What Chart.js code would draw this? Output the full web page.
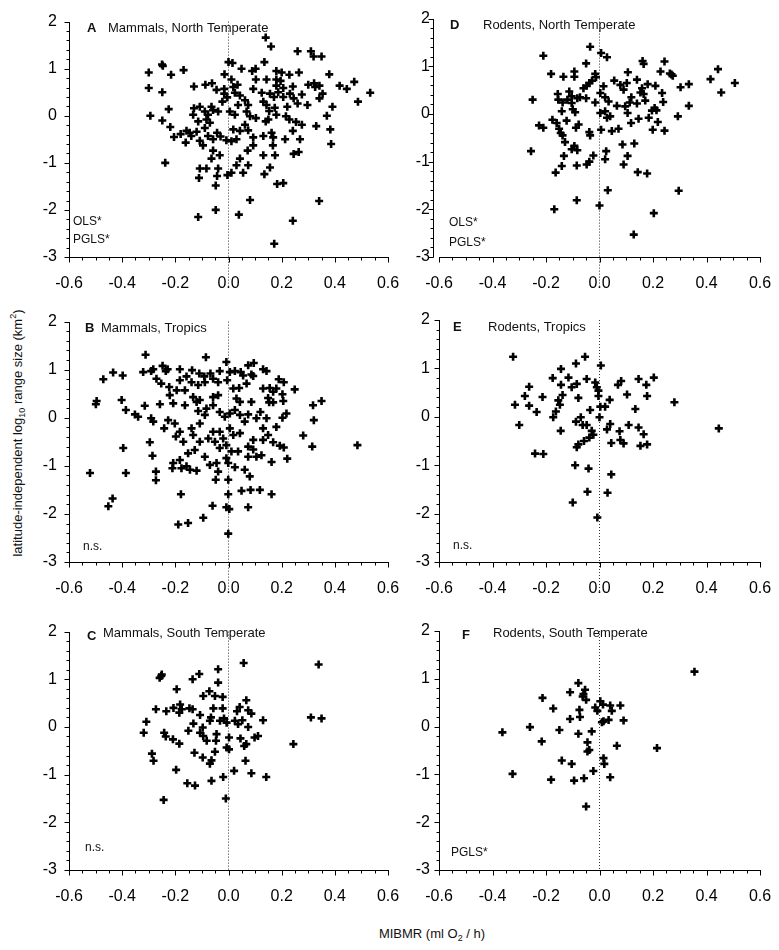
<!DOCTYPE html>
<html>
<head>
<meta charset="utf-8">
<script src="https://cdn.jsdelivr.net/npm/chart.js@4.4.1/dist/chart.umd.min.js"></script>
<style>
  body { margin: 0; background: #fff; }
  #page { position: relative; width: 779px; height: 950px; overflow: hidden; font-family: "Liberation Sans", Arial, sans-serif; color: #111; }
  #page canvas { position: absolute; }
  .ttl { position: absolute; font-size: 13px; white-space: nowrap; transform: translate(-50%, -50%); }
  .ttl sub, .ttl sup { font-size: 9px; line-height: 0; }
  #ytitle { left: 17px; top: 433px; transform: translate(-50%, -50%) rotate(-90deg); }
  #xtitle { left: 432px; top: 933px; }
</style>
</head>
<body>
<div id="page">
  <div class="ttl" id="ytitle">latitude-independent log<sub>10</sub> range size (km<sup>2</sup>)</div>
  <div class="ttl" id="xtitle">MIBMR (ml O<sub>2</sub> / h)</div>
</div>
<script>
// [MIBMR, latitude-independent log10 range size] per panel
const mammalsNorth = [[0.14,1.66],[0.16,1.47],[0.26,1.37],[0.31,1.37],[0.32,1.26],[0.35,1.26],[0.0,1.14],[0.015,1.12],[0.135,1.14],[-0.247,1.06],[-0.25,1.09],[-0.30,0.92],[-0.216,0.87],[-0.169,0.97],[-0.015,0.88],[0.049,1.0],[0.089,0.95],[0.102,1.0],[0.18,0.95],[0.20,0.92],[0.229,0.87],[0.265,0.92],[0.379,0.88],[-0.30,0.59],[-0.249,0.50],[-0.13,0.62],[-0.087,0.66],[-0.062,0.69],[-0.045,0.55],[0.011,0.77],[0.034,0.66],[0.103,0.77],[0.143,0.77],[0.18,0.77],[0.18,0.64],[0.196,0.74],[0.206,0.59],[0.242,0.62],[0.30,0.66],[0.322,0.69],[0.342,0.64],[0.326,0.61],[0.418,0.64],[0.445,0.57],[0.473,0.72],[0.533,0.49],[0.487,0.30],[0.354,0.47],[0.342,0.37],[0.391,0.19],[0.297,0.23],[0.26,0.26],[0.018,0.61],[0.024,0.49],[0.043,0.43],[0.062,0.33],[0.074,0.23],[0.093,0.57],[0.125,0.49],[0.156,0.47],[0.171,0.40],[0.131,0.30],[0.143,0.23],[0.231,0.47],[0.245,0.37],[0.221,0.19],[-0.023,0.30],[-0.016,0.57],[-0.13,0.16],[-0.108,0.19],[-0.089,0.09],[-0.064,0.19],[-0.058,0.12],[-0.039,0.09],[-0.133,0.02],[-0.114,-0.12],[-0.083,-0.08],[-0.07,-0.15],[0.005,0.09],[0.024,0.02],[0.068,0.09],[0.081,-0.01],[0.103,-0.05],[0.15,-0.08],[0.14,-0.12],[0.18,0.02],[0.216,-0.01],[0.229,-0.08],[0.254,-0.13],[0.242,-0.32],[0.276,-0.19],[0.33,-0.22],[0.37,0.0],[0.383,-0.29],[0.386,-0.60],[-0.294,0.0],[-0.249,-0.10],[-0.225,0.14],[-0.219,-0.24],[-0.205,-0.45],[-0.161,-0.57],[-0.158,-0.32],[-0.14,-0.43],[-0.12,-0.34],[-0.108,-0.53],[-0.096,-0.63],[-0.077,-0.43],[-0.058,-0.50],[-0.043,-0.36],[-0.030,-0.44],[-0.008,-0.52],[0.011,-0.54],[0.030,-0.50],[0.043,-0.32],[0.074,-0.31],[0.093,-0.46],[0.131,-0.43],[0.162,-0.36],[0.168,-0.46],[0.213,-0.50],[0.269,-0.50],[-0.058,-0.74],[-0.033,-0.84],[-0.064,-0.91],[0.072,-0.74],[0.043,-0.91],[0.093,-0.63],[0.167,-0.63],[0.131,-0.84],[0.175,-0.84],[0.245,-0.81],[0.264,-0.77],[-0.238,-1.0],[-0.108,-1.12],[-0.083,-1.12],[-0.111,-1.32],[-0.039,-1.12],[-0.043,-1.28],[-0.048,-1.48],[-0.004,-1.26],[0.011,-1.21],[0.030,-1.05],[0.055,-1.21],[0.074,-1.05],[0.135,-1.24],[0.156,-1.10],[0.183,-1.45],[0.206,-1.43],[0.081,-1.79],[0.341,-1.81],[-0.114,-2.15],[-0.048,-2.0],[0.039,-2.1],[0.242,-2.23],[0.172,-2.72],[-0.016,0.47],[-0.005,0.39],[0.036,0.23],[-0.077,0.02],[-0.146,-0.36],[-0.18,-0.39],[-0.089,-0.26],[0.018,-0.29],[0.062,-0.19],[0.206,0.40],[0.187,0.50],[0.276,0.45],[0.153,0.10],[0.174,0.17]];

const mammalsTropics = [[-0.312,1.31],[-0.085,1.26],[-0.008,1.16],[0.095,1.14],[0.074,1.09],[-0.248,1.08],[-0.283,1.01],[-0.321,0.95],[-0.291,0.97],[-0.236,0.97],[-0.229,1.01],[-0.434,0.94],[-0.398,0.88],[-0.471,0.80],[-0.183,1.01],[-0.137,0.99],[-0.11,0.92],[-0.091,0.86],[-0.068,0.92],[-0.033,0.97],[0.005,0.95],[0.024,0.97],[0.046,0.95],[0.055,0.88],[0.086,0.90],[0.130,1.01],[0.143,0.97],[-0.271,0.81],[-0.253,0.71],[-0.223,0.64],[-0.183,0.78],[-0.158,0.86],[-0.139,0.74],[-0.114,0.68],[-0.089,0.74],[-0.058,0.81],[-0.039,0.74],[-0.005,0.78],[0.018,0.61],[0.040,0.62],[0.068,0.71],[0.093,0.87],[0.130,0.61],[0.155,0.62],[0.180,0.61],[0.189,0.80],[0.208,0.74],[0.249,0.59],[0.149,0.41],[0.168,0.54],[0.203,0.49],[0.206,0.35],[0.153,0.32],[0.168,0.32],[0.318,0.26],[0.35,0.35],[0.321,-0.05],[0.218,0.09],[0.203,0.0],[0.180,-0.19],[0.143,-0.01],[0.120,0.12],[0.086,0.33],[0.074,0.07],[0.043,0.33],[0.030,0.40],[0.024,0.16],[-0.496,0.35],[-0.499,0.28],[-0.402,0.37],[-0.386,0.16],[-0.352,0.07],[-0.340,0.02],[-0.315,0.25],[-0.291,-0.01],[-0.283,-0.08],[-0.258,0.28],[-0.242,-0.22],[-0.221,0.47],[-0.208,0.30],[-0.195,0.57],[-0.164,0.57],[-0.164,0.26],[-0.227,-0.05],[-0.202,-0.12],[-0.183,-0.29],[-0.170,-0.50],[-0.198,-0.39],[-0.139,-0.22],[-0.133,-0.36],[-0.108,-0.12],[-0.089,0.06],[-0.114,0.14],[-0.083,0.19],[-0.058,0.26],[-0.033,0.12],[-0.014,0.02],[0.005,0.09],[-0.039,0.47],[-0.058,0.43],[0.005,-0.22],[0.018,-0.36],[0.043,-0.32],[-0.033,-0.29],[-0.058,-0.29],[-0.076,-0.43],[-0.051,-0.50],[-0.020,-0.43],[-0.008,-0.57],[0.011,-0.70],[0.036,-0.70],[-0.033,-0.63],[-0.108,-0.50],[-0.127,-0.67],[-0.152,-0.74],[-0.183,-0.88],[-0.208,-0.94],[-0.211,-1.05],[-0.177,-1.05],[-0.158,-1.01],[-0.145,-1.08],[-0.120,-1.10],[-0.089,-0.81],[-0.070,-0.98],[-0.045,-0.94],[-0.039,-1.12],[-0.048,-1.29],[-0.008,-0.84],[-0.001,-0.94],[0.024,-1.03],[0.061,-1.08],[0.080,-1.22],[0.074,-0.60],[0.093,-0.66],[0.074,-0.81],[0.105,-0.81],[0.124,-0.78],[0.093,-0.46],[0.130,-0.46],[0.168,-0.51],[0.162,-0.92],[0.193,-0.58],[0.208,-0.62],[0.221,-0.85],[0.281,-0.37],[0.315,-0.60],[0.485,-0.57],[-0.521,-1.15],[-0.386,-1.15],[-0.396,-0.63],[-0.296,-0.51],[-0.286,-0.79],[-0.273,-1.12],[-0.273,-1.30],[-0.436,-1.68],[-0.452,-1.84],[-0.179,-1.59],[-0.189,-2.22],[-0.152,-2.19],[-0.095,-2.08],[-0.060,-1.83],[-0.001,-1.29],[-0.001,-1.59],[-0.008,-1.86],[0.003,-1.90],[-0.001,-2.41],[0.049,-1.52],[0.083,-1.50],[0.118,-1.50],[0.162,-1.59],[0.074,-1.86],[0.043,0.06],[0.061,-0.08],[0.105,-0.01],[0.130,-0.22],[0.149,-0.36],[-0.133,0.43],[-0.120,0.33],[-0.108,0.37]];

const mammalsSouth = [[0.057,1.34],[0.339,1.31],[-0.039,1.21],[-0.251,1.10],[-0.259,1.03],[-0.253,1.07],[-0.110,1.11],[-0.135,1.0],[-0.195,0.79],[-0.039,0.93],[-0.072,0.75],[-0.095,0.65],[-0.051,0.65],[-0.022,0.63],[0.067,0.56],[0.042,0.42],[0.032,0.33],[0.074,0.35],[0.086,0.28],[-0.273,0.37],[-0.234,0.33],[-0.207,0.40],[-0.182,0.47],[-0.176,0.37],[-0.185,0.30],[-0.147,0.39],[-0.135,0.37],[-0.107,0.25],[-0.057,0.39],[-0.022,0.39],[-0.309,0.11],[-0.319,-0.12],[-0.242,-0.12],[-0.236,-0.20],[-0.209,-0.26],[-0.185,-0.35],[-0.151,-0.08],[-0.132,0.07],[-0.097,-0.01],[-0.107,-0.12],[-0.095,-0.19],[-0.082,-0.29],[-0.070,0.13],[-0.066,0.20],[-0.045,-0.15],[-0.047,-0.29],[-0.051,-0.52],[-0.064,-0.70],[-0.070,-0.77],[-0.032,0.13],[-0.017,0.18],[-0.007,0.09],[0.002,-0.22],[-0.007,-0.43],[0.002,-0.47],[0.024,0.13],[0.036,0.06],[0.052,0.14],[0.074,0.0],[0.045,-0.24],[0.067,-0.36],[0.059,-0.40],[0.098,-0.22],[0.111,-0.19],[0.130,0.14],[0.244,-0.36],[0.310,0.20],[0.350,0.18],[-0.288,-0.56],[-0.282,-0.71],[-0.197,-0.90],[-0.128,-0.54],[-0.097,-0.64],[0.064,-0.71],[0.021,-0.92],[0.086,-0.97],[0.142,-1.05],[-0.020,-1.05],[-0.155,-1.18],[-0.126,-1.23],[-0.064,-1.13],[-0.010,-1.50],[-0.244,-1.53]];

const rodentsNorth = [[-0.035,1.41],[-0.21,1.22],[0.006,1.28],[0.028,1.19],[-0.05,1.06],[-0.181,0.84],[-0.135,0.78],[-0.094,0.89],[-0.094,0.78],[-0.016,0.84],[-0.013,0.77],[-0.028,0.70],[-0.038,0.65],[-0.048,0.59],[-0.06,0.54],[0.015,0.58],[0.055,0.70],[0.106,0.875],[0.102,0.65],[0.078,0.61],[0.09,0.51],[0.14,0.72],[0.159,0.54],[0.165,0.42],[0.171,0.28],[0.18,0.625],[0.209,0.59],[0.153,0.45],[0.161,1.11],[0.165,1.05],[0.243,1.10],[0.228,0.89],[0.269,0.83],[0.274,0.80],[0.263,0.85],[0.303,0.56],[0.334,0.625],[0.415,0.73],[0.443,0.94],[0.455,0.45],[0.506,0.65],[0.234,0.44],[0.238,0.25],[0.334,0.17],[0.206,0.125],[0.213,0.076],[0.196,0.07],[0.199,-0.33],[0.243,-0.35],[0.218,-0.17],[0.293,-0.05],[-0.25,0.30],[-0.256,-0.78],[-0.226,-0.24],[-0.21,-0.29],[-0.176,-0.12],[-0.16,-0.19],[-0.151,-0.31],[-0.145,-0.40],[-0.138,-0.45],[-0.129,-0.59],[-0.133,-0.88],[-0.164,-1.23],[-0.141,-1.09],[-0.104,-0.74],[-0.094,-0.67],[-0.083,-0.76],[-0.085,-1.08],[-0.088,-0.29],[-0.078,-0.22],[-0.141,0.056],[-0.123,-0.14],[-0.12,0.30],[-0.156,0.42],[-0.154,0.30],[-0.138,0.24],[-0.113,0.47],[-0.104,0.23],[-0.1,0.10],[-0.091,0.035],[-0.073,0.35],[-0.083,0.33],[-0.104,0.37],[-0.05,0.33],[-0.038,-0.38],[-0.035,-0.45],[-0.048,-1.06],[-0.038,-1.0],[-0.023,-0.87],[0.025,-0.78],[0.021,-0.95],[0.0,-1.92],[0.031,-1.60],[0.086,-0.64],[0.09,-1.06],[0.105,-0.88],[0.13,-0.62],[0.143,-1.22],[0.178,-1.25],[-0.085,-1.81],[-0.169,-2.0],[0.203,-2.08],[0.128,-2.53],[0.296,-1.61],[0.003,0.02],[0.021,0.056],[-0.016,0.24],[0.003,0.44],[0.021,0.35],[0.034,0.26],[0.04,-0.05],[0.028,-0.08],[0.046,-0.36],[0.071,-0.31],[0.006,-0.33],[0.065,0.17],[0.096,0.16],[0.113,0.24],[0.14,0.22],[0.105,0.02],[0.118,-0.19],[0.146,-0.10],[0.184,-0.08],[0.119,0.35]];

const rodentsTropics = [[-0.323,1.24],[-0.054,1.24],[-0.088,1.10],[0.005,1.06],[-0.144,0.99],[-0.175,0.80],[-0.116,0.81],[-0.048,0.78],[-0.016,0.71],[-0.01,0.61],[-0.004,0.54],[-0.004,0.43],[-0.144,0.66],[-0.104,0.61],[-0.085,0.68],[-0.263,0.62],[-0.279,0.43],[-0.213,0.41],[-0.138,0.45],[-0.154,0.34],[-0.148,0.25],[-0.316,0.25],[-0.263,0.23],[-0.235,0.10],[-0.30,-0.17],[-0.163,0.11],[-0.173,-0.01],[-0.079,0.39],[-0.035,0.14],[0.0,-0.01],[0.003,0.21],[0.021,0.21],[0.038,0.35],[0.069,0.66],[0.081,0.74],[0.103,0.46],[0.146,0.78],[0.175,0.66],[0.203,0.81],[0.178,0.43],[0.134,0.16],[0.28,0.30],[0.446,-0.24],[-0.07,-0.01],[-0.088,-0.10],[-0.063,-0.17],[-0.048,-0.17],[-0.145,-0.29],[-0.029,-0.29],[-0.023,-0.37],[-0.038,-0.43],[-0.058,-0.50],[-0.079,-0.57],[-0.085,-0.63],[0.028,-0.26],[0.04,-0.15],[0.075,-0.30],[0.078,-0.48],[0.09,-0.55],[0.044,-0.54],[0.109,-0.17],[0.146,-0.22],[0.165,-0.36],[0.153,-0.60],[0.178,-0.57],[-0.241,-0.76],[-0.21,-0.77],[-0.091,-1.0],[-0.041,-1.07],[0.044,-1.19],[-0.045,-1.55],[0.03,-1.57],[-0.1,-1.77],[-0.008,-2.08]];

const rodentsSouth = [[0.355,1.15],[-0.079,0.91],[-0.054,0.77],[-0.06,0.68],[-0.11,0.72],[-0.063,0.63],[-0.05,0.56],[-0.213,0.60],[-0.173,0.38],[-0.075,0.35],[-0.073,0.20],[-0.11,0.16],[-0.016,0.40],[-0.008,0.33],[0.003,0.53],[0.013,0.46],[0.04,0.44],[0.078,0.44],[0.046,0.33],[0.009,0.09],[0.015,0.11],[0.034,0.14],[0.09,0.13],[-0.26,-0.01],[-0.363,-0.12],[-0.15,-0.07],[-0.079,-0.15],[-0.029,-0.10],[-0.216,-0.31],[-0.045,-0.33],[-0.038,-0.49],[-0.045,-0.52],[0.065,-0.40],[0.215,-0.45],[-0.141,-0.71],[-0.104,-0.78],[0.015,-0.66],[0.018,-0.78],[-0.325,-0.99],[-0.181,-1.11],[-0.095,-1.13],[-0.058,-1.08],[-0.023,-0.93],[0.04,-1.06],[-0.05,-1.67]];

// axis ranges and tick steps
const xRange = [-0.6, 0.6];
const yRange = [-3, 2];
const xMajor = 0.2, xMinor = 0.05;
const yMajor = 1, yMinor = 0.2;

const FONT = '"Liberation Sans", Arial, sans-serif';
Chart.defaults.font.family = FONT;
Chart.defaults.color = '#000';

// layout of the 2x3 grid (page pixels)
const cols = [
    { left: 0, width: 418, yWidth: 69, padRight: 30, labelPad: 12 },
    { left: 390, width: 400, yWidth: 49, padRight: 30, labelPad: 9 }
];
const rows = [
    { top: 0, height: 310, padTop: 15, xHeight: 53, refEnd: -3.62 },
    { top: 300, height: 310, padTop: 20, xHeight: 48, refEnd: -3.62 },
    { top: 610, height: 300, padTop: 21, xHeight: 40, refEnd: -3 }
];

const panels = [
    { data: mammalsNorth, col: 0, row: 0, letter: 'A', title: 'Mammals, North Temperate', lx: 18, tx: 39, ty: 7, ldy: 0, gap: 0,
      notes: [['OLS*', 4, -35], ['PGLS*', 4, -17]] },
    { data: mammalsTropics, col: 0, row: 1, letter: 'B', title: 'Mammals, Tropics', lx: 16, tx: 32, ty: 7, ldy: 0, gap: 0,
      notes: [['n.s.', 14, -15]] },
    { data: mammalsSouth, col: 0, row: 2, letter: 'C', title: 'Mammals, South Temperate', lx: 18, tx: 34, ty: 2, ldy: 3, gap: 0,
      notes: [['n.s.', 16, -22]] },
    { data: rodentsNorth, col: 1, row: 0, letter: 'D', title: 'Rodents, North Temperate', lx: 11, tx: 44, ty: 7, ldy: 0, gap: 6,
      notes: [['OLS*', 10, -34], ['PGLS*', 10, -14]] },
    { data: rodentsTropics, col: 1, row: 1, letter: 'E', title: 'Rodents, Tropics', lx: 14, tx: 49, ty: 7, ldy: 0, gap: 0,
      notes: [['n.s.', 14, -16]] },
    { data: rodentsSouth, col: 1, row: 2, letter: 'F', title: 'Rodents, South Temperate', lx: 23, tx: 54, ty: 2, ldy: 2, gap: 0,
      notes: [['PGLS*', 12, -17]] }
];

// axis lines with major + minor tick marks, drawn from the chart scales
const axisTicks = {
    id: 'axisTicks',
    afterDraw(chart, args, o) {
        const { ctx, chartArea: a, scales: { x, y } } = chart;
        const yx = Math.round(a.left - o.gap) + 0.5;
        const xb = Math.round(a.bottom) + 0.5;
        ctx.save();
        ctx.strokeStyle = '#000';
        ctx.lineWidth = 1;
        ctx.beginPath();
        ctx.moveTo(yx, Math.round(a.top));
        ctx.lineTo(yx, xb);
        ctx.moveTo(Math.round(a.left), xb);
        ctx.lineTo(Math.round(a.right) + 1, xb);
        const nx = Math.round((xRange[1] - xRange[0]) / xMinor);
        for (let i = 0; i <= nx; i++) {
            const v = xRange[0] + i * xMinor;
            const px = Math.round(x.getPixelForValue(v)) + 0.5;
            ctx.moveTo(px, xb);
            ctx.lineTo(px, xb + (i % Math.round(xMajor / xMinor) === 0 ? 5 : 3));
        }
        const ny = Math.round((yRange[1] - yRange[0]) / yMinor);
        for (let i = 0; i <= ny; i++) {
            const v = yRange[0] + i * yMinor;
            const py = Math.round(y.getPixelForValue(v)) + 0.5;
            ctx.moveTo(yx, py);
            ctx.lineTo(yx - (i % Math.round(yMajor / yMinor) === 0 ? 5 : 3), py);
        }
        ctx.stroke();
        ctx.restore();
    }
};

// panel letter, title and test notes
const panelText = {
    id: 'panelText',
    afterDraw(chart, args, o) {
        const { ctx, chartArea: a } = chart;
        ctx.save();
        ctx.fillStyle = '#111';
        ctx.textBaseline = 'middle';
        ctx.textAlign = 'left';
        ctx.font = 'bold 13px ' + FONT;
        ctx.fillText(o.letter, a.left + o.lx, a.top + o.ty + o.ldy);
        ctx.font = '13px ' + FONT;
        ctx.fillText(o.title, a.left + o.tx, a.top + o.ty);
        ctx.font = '12px ' + FONT;
        o.notes.forEach(n => ctx.fillText(n[0], a.left + n[1], a.bottom + n[2]));
        ctx.restore();
    }
};

const page = document.getElementById('page');

panels.forEach(p => {
    const c = cols[p.col], r = rows[p.row];
    const cv = document.createElement('canvas');
    cv.width = c.width; cv.height = r.height;
    cv.style.left = c.left + 'px'; cv.style.top = r.top + 'px';
    cv.style.width = c.width + 'px'; cv.style.height = r.height + 'px';
    page.appendChild(cv);

    new Chart(cv, {
        type: 'scatter',
        data: {
            datasets: [
                {
                    data: p.data.map(d => ({ x: d[0], y: d[1] })),
                    pointStyle: 'cross', pointRadius: 4, pointHoverRadius: 4,
                    borderColor: '#000', borderWidth: 2.6, order: 1
                },
                {
                    data: [{ x: 0, y: yRange[1] }, { x: 0, y: r.refEnd }],
                    showLine: true, pointRadius: 0, borderColor: '#333',
                    borderWidth: 1, borderDash: [1, 2], clip: false, order: 2
                }
            ]
        },
        options: {
            responsive: false, animation: false, devicePixelRatio: 1,
            layout: { padding: { top: r.padTop, right: c.padRight, left: 0, bottom: 0 } },
            plugins: {
                legend: { display: false }, tooltip: { enabled: false },
                axisTicks: { gap: p.gap },
                panelText: { letter: p.letter, title: p.title, lx: p.lx, tx: p.tx, ty: p.ty, ldy: p.ldy, notes: p.notes }
            },
            scales: {
                x: {
                    min: xRange[0], max: xRange[1],
                    grid: { display: false, drawTicks: false }, border: { display: false },
                    ticks: {
                        stepSize: xMajor, autoSkip: false, maxRotation: 0, padding: 17,
                        font: { size: 16 }, color: '#000',
                        callback: v => Math.abs(v) < 1e-9 ? '0.0' : v.toFixed(1)
                    },
                    afterFit: s => { s.height = r.xHeight; }
                },
                y: {
                    min: yRange[0], max: yRange[1],
                    grid: { display: false, drawTicks: false }, border: { display: false },
                    ticks: { stepSize: yMajor, padding: c.labelPad, font: { size: 16 }, color: '#000' },
                    afterFit: s => { s.width = c.yWidth; }
                }
            }
        },
        plugins: [axisTicks, panelText]
    });
});
</script>
</body>
</html>
